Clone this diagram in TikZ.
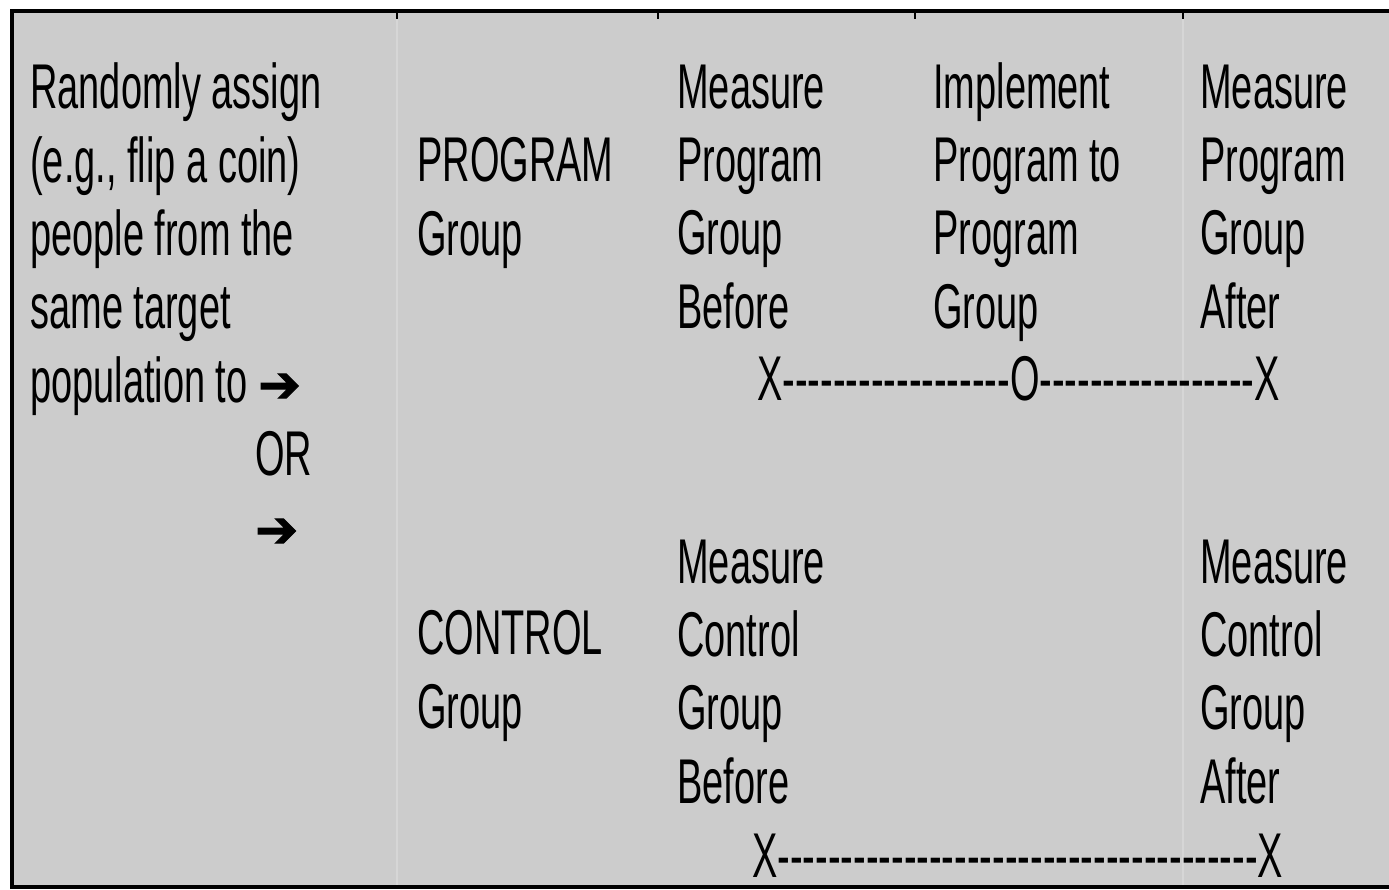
\documentclass[tikz,border=0pt]{standalone}
\usepackage{fontspec}
\setmainfont[FakeStretch=0.6,Ligatures=TeXOff]{Liberation Sans}
\newfontfamily\arrowfont[FakeBold=2]{DejaVu Sans}
\definecolor{cellgray}{RGB}{204,204,204}
\definecolor{gridgray}{RGB}{214,214,214}
\newcommand{\arr}{{\arrowfont\fontsize{29}{29}\selectfont ➔}}

\begin{document}
\begin{tikzpicture}[x=0.02cm,y=-0.02cm,
	txt/.style={anchor=base west, inner sep=0pt, align=left, font=\fontsize{36}{41.7}\selectfont}]
	\useasboundingbox (0,0) rectangle (1389,889);
	\fill[cellgray] (12,11) rectangle (1389,887);
	\draw[gridgray, line width=1pt] (397,13) -- (397,885) (1183,13) -- (1183,885);
	\draw[line width=2.2pt] (1389,11) -- (12,11) -- (12,887) -- (1389,887);
	\foreach \x in {397,658,915,1183}
		\draw[line width=1.2pt] (\x,11) -- (\x,19);

	% base anchor sits on the last line
	\node[txt] at (30,402)(assign){Randomly assign\\(e.g., flip a coin)\\people from the\\same target\\population to \arr};
	\node[txt] at (255,475)(or){OR};
	\node[txt] at (255,547)(arrow){\arr};

	\node[txt] at (417,255)(prog){PROGRAM\\Group};
	\node[txt] at (677,328)(pbefore){Measure\\Program\\Group\\Before};
	\node[txt] at (933,328)(impl){Implement\\Program to\\Program\\Group};
	\node[txt] at (1200,328)(pafter){Measure\\Program\\Group\\After};
	\node[txt] at (757,400)(pline){X------------------O-----------------X};

	\node[txt] at (417,728)(ctrl){CONTROL\\Group};
	\node[txt] at (677,803)(cbefore){Measure\\Control\\Group\\Before};
	\node[txt] at (1200,803)(cafter){Measure\\Control\\Group\\After};
	\node[txt] at (752,877)(cline){X--------------------------------------X};
\end{tikzpicture}
\end{document}
